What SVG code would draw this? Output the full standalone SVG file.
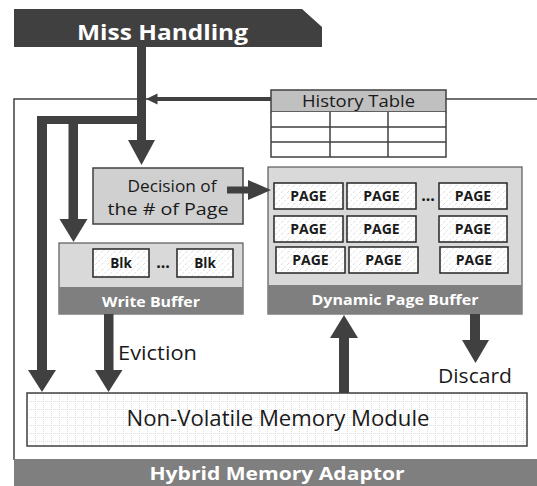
<svg xmlns="http://www.w3.org/2000/svg" width="537" height="486" viewBox="0 0 537 486">
<defs>
<pattern id="hatch" width="6" height="6" patternUnits="userSpaceOnUse">
<rect width="6" height="6" fill="#ffffff"/>
<path d="M0 6L6 0" stroke="#d6d6d6" stroke-width="0.8" stroke-dasharray="2,1.5"/>
</pattern>
<pattern id="grid" x="27" y="393" width="8" height="8" patternUnits="userSpaceOnUse">
<rect width="8" height="8" fill="#ffffff"/>
<path d="M0 0.5H8M0.5 0V8" stroke="#d2d2d2" stroke-width="0.7" stroke-dasharray="1,1"/>
</pattern>
<style>
.dark{fill:#404040}
.cell{fill:url(#hatch);stroke:#262626;stroke-width:1.5}
.band{fill:#7f7f7f}
.panel{fill:#d9d9d9;stroke:#595959;stroke-width:1.2}
.t{font-family:"Open Sans","Liberation Sans",sans-serif;fill:#1a1a1a}
.b{font-family:"Open Sans","Liberation Sans",sans-serif;font-weight:bold}
.w{fill:#ffffff}
.thin{fill:none;stroke:#404040;stroke-width:1.5}
</style>
</defs>
<rect width="537" height="486" fill="#ffffff"/>

<g id="frame">
<path class="thin" d="M14 460V99H271"/>
<path class="thin" d="M446 99H537"/>
</g>

<g id="hybrid-memory-adaptor">
<rect class="band" x="14" y="459" width="523" height="27"/>
<text class="b w" x="277" y="479.5" font-size="18.5" text-anchor="middle" textLength="255" lengthAdjust="spacingAndGlyphs">Hybrid Memory Adaptor</text>
</g>

<g id="miss-handling">
<path class="dark" d="M14 9H302L322 27V47H14Z"/>
<text class="b w" x="162.5" y="40" font-size="21" text-anchor="middle" textLength="171" lengthAdjust="spacingAndGlyphs">Miss Handling</text>
</g>

<g id="history-table">
<rect x="271" y="90" width="175" height="22" fill="#c0c0c0" stroke="#404040" stroke-width="1.5"/>
<text class="t" x="358.5" y="107" font-size="17" text-anchor="middle" textLength="113" lengthAdjust="spacingAndGlyphs">History Table</text>
<path fill="#ffffff" stroke="#404040" stroke-width="1.5" d="M271 112V157H446V112M271 127H446M271 142H446M330 112V157M388 112V157"/>
</g>

<g id="decision">
<rect x="93" y="168" width="150" height="56" fill="#d0d0d0" stroke="#404040" stroke-width="1.5"/>
<text class="t" x="172" y="192" font-size="16.5" text-anchor="middle" textLength="89" lengthAdjust="spacingAndGlyphs">Decision of</text>
<text class="t" x="168" y="215" font-size="16.5" text-anchor="middle" textLength="121" lengthAdjust="spacingAndGlyphs">the # of Page</text>
</g>

<g id="write-buffer">
<rect class="panel" x="59" y="243" width="184" height="71"/>
<rect class="band" x="59" y="287" width="184" height="27"/>
<rect class="cell" x="93" y="249" width="56" height="28"/>
<rect class="cell" x="177" y="249" width="56" height="28"/>
<text class="b" x="121" y="268" font-size="13.5" text-anchor="middle" fill="#1a1a1a">Blk</text>
<text class="b" x="205" y="268" font-size="13.5" text-anchor="middle" fill="#1a1a1a">Blk</text>
<text class="b" x="163" y="268" font-size="16" text-anchor="middle" fill="#1a1a1a">...</text>
<text class="b w" x="151" y="307" font-size="14.5" text-anchor="middle" textLength="98" lengthAdjust="spacingAndGlyphs">Write Buffer</text>
</g>

<g id="dynamic-page-buffer">
<rect class="panel" x="268" y="167" width="254" height="147"/>
<rect class="band" x="268" y="285" width="254" height="29"/>
<rect class="cell" x="274" y="183" width="69" height="26"/>
<rect class="cell" x="347" y="183" width="69" height="26"/>
<rect class="cell" x="439" y="183" width="68" height="26"/>
<rect class="cell" x="274" y="216" width="69" height="26"/>
<rect class="cell" x="347" y="216" width="69" height="26"/>
<rect class="cell" x="439" y="216" width="68" height="26"/>
<rect class="cell" x="276" y="247" width="69" height="26"/>
<rect class="cell" x="349" y="247" width="69" height="26"/>
<rect class="cell" x="440" y="247" width="68" height="26"/>
<g class="b" font-size="14" text-anchor="middle" fill="#1a1a1a">
<text x="308.5" y="201">PAGE</text>
<text x="381.5" y="201">PAGE</text>
<text x="473" y="201">PAGE</text>
<text x="308.5" y="234">PAGE</text>
<text x="381.5" y="234">PAGE</text>
<text x="473" y="234">PAGE</text>
<text x="310.5" y="265">PAGE</text>
<text x="383.5" y="265">PAGE</text>
<text x="474" y="265">PAGE</text>
</g>
<text class="b" x="428" y="201" font-size="16" text-anchor="middle" fill="#1a1a1a">...</text>
<text class="b w" x="395" y="305" font-size="15" text-anchor="middle" textLength="167" lengthAdjust="spacingAndGlyphs">Dynamic Page Buffer</text>
</g>

<g id="nvm">
<rect x="27" y="393" width="500" height="53" fill="url(#grid)" stroke="#404040" stroke-width="1.5"/>
<text class="t" x="278" y="426" font-size="21" text-anchor="middle" textLength="303" lengthAdjust="spacingAndGlyphs">Non-Volatile Memory Module</text>
</g>

<g id="connectors" class="dark">
<rect x="137" y="47" width="9" height="94"/>
<path d="M128 140H155L141.5 165Z"/>
<rect x="37" y="116" width="109" height="8"/>
<rect x="37" y="116" width="10" height="255"/>
<path d="M28 370H56L42 392Z"/>
<rect x="68.5" y="116" width="9.5" height="104"/>
<path d="M59.5 219H87.5L73.5 242Z"/>
<rect x="104" y="314" width="9.5" height="57"/>
<path d="M95 370H122.5L108.5 392Z"/>
<rect x="339" y="337" width="10" height="56"/>
<path d="M330 338H358L344 315Z"/>
<rect x="470" y="314" width="10" height="27"/>
<path d="M462 340H489L475.5 363Z"/>
<rect x="227" y="186.5" width="22" height="7"/>
<path d="M248 180V200L271 190Z"/>
<rect x="156" y="97" width="115" height="4"/>
<path d="M157.5 93.5V104.5L146 99Z"/>
</g>

<g id="labels">
<text class="t" x="118" y="360" font-size="20" textLength="79" lengthAdjust="spacingAndGlyphs">Eviction</text>
<text class="t" x="438" y="383" font-size="20" textLength="74" lengthAdjust="spacingAndGlyphs">Discard</text>
</g>
</svg>
